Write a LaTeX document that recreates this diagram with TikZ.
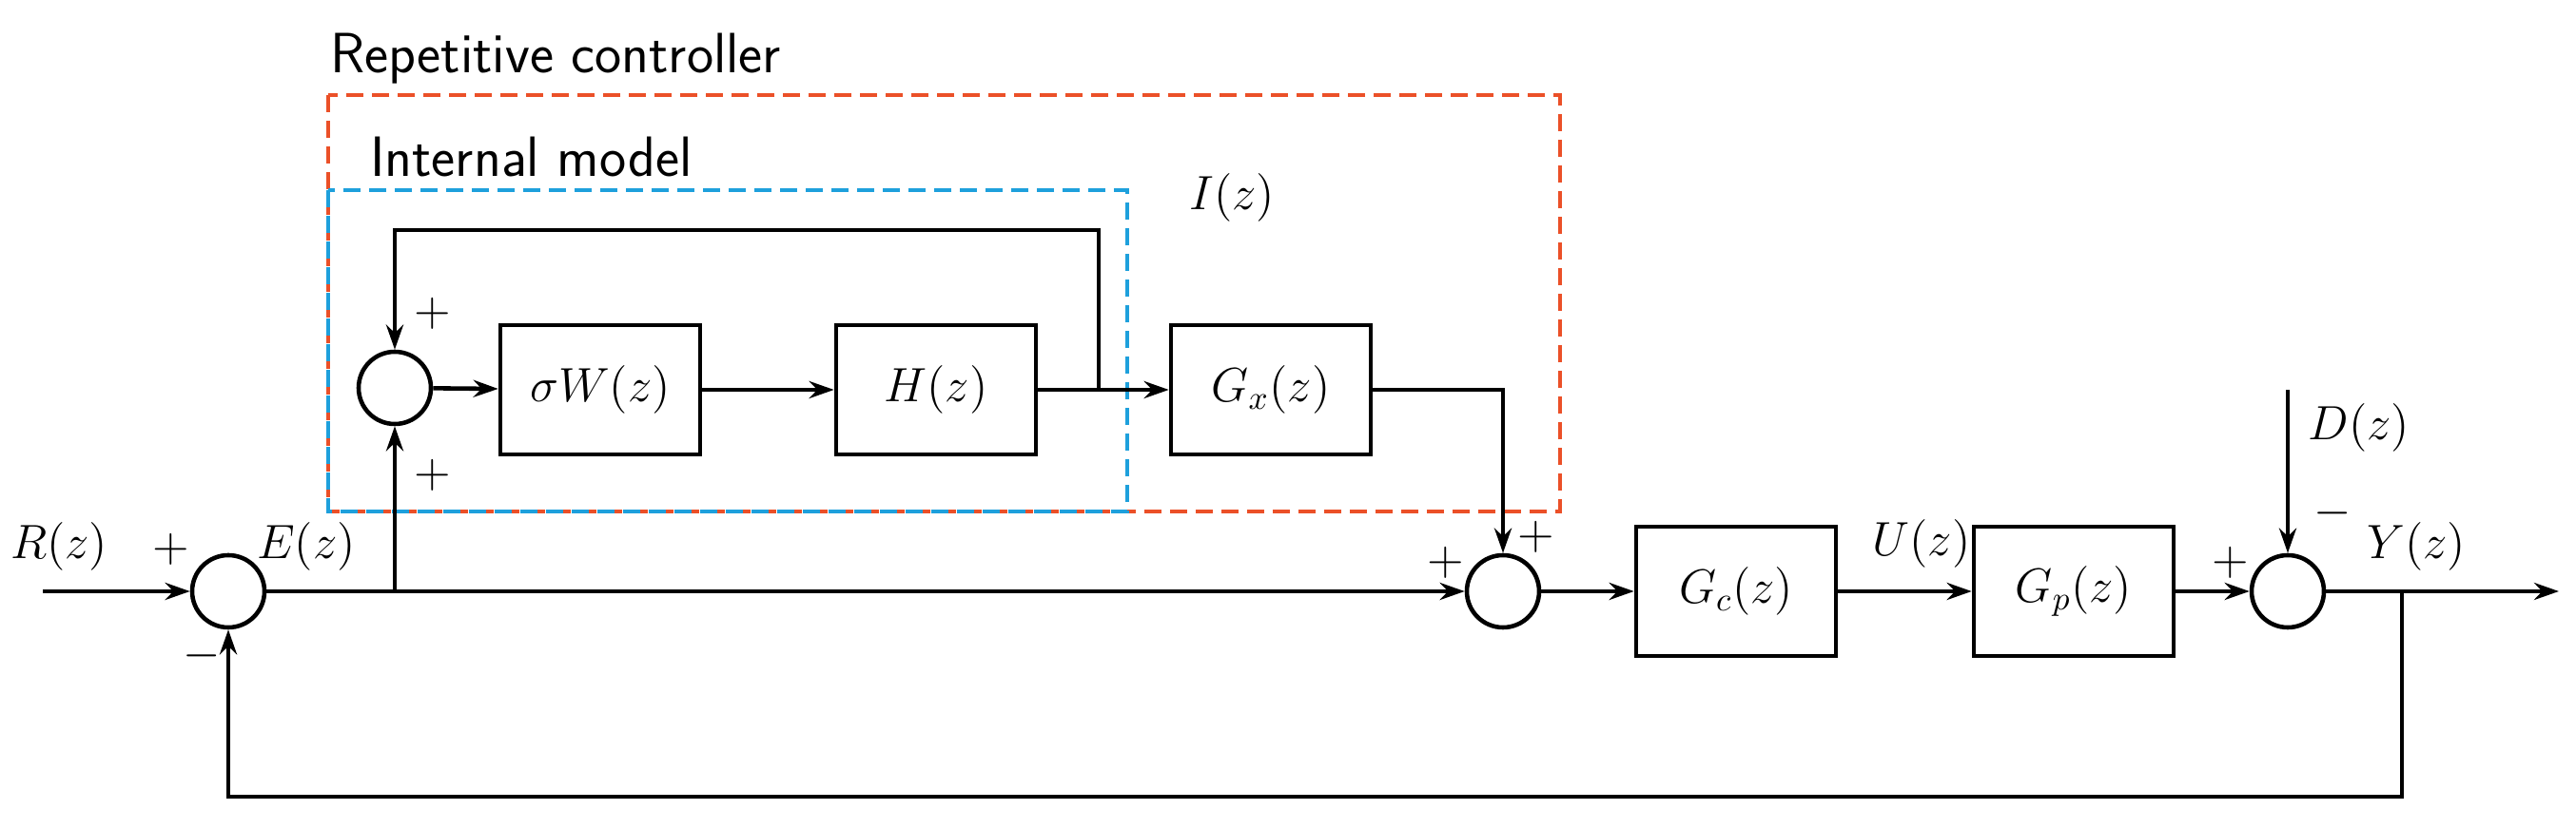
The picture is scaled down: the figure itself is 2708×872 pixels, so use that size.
\documentclass[tikz,border=0pt]{standalone}
\usetikzlibrary{arrows.meta}
\begin{document}
\begin{tikzpicture}[x=0.1mm,y=-0.1mm,
  font=\fontsize{14}{17}\selectfont,
  line width=1.3pt,
  >={Stealth[length=2.6mm,width=1.8mm]},
  blk/.style={draw,minimum width=21mm,minimum height=13.6mm,inner sep=0pt},
  sum/.style={draw,circle,minimum size=7.6mm,inner sep=0pt},
  lbl/.style={inner sep=0pt},
  ttl/.style={inner sep=0pt,anchor=west,font=\fontsize{17}{20}\selectfont\sffamily},
  dsh/.style={line width=1.3pt,dash pattern=on 1.8mm off 0.9mm}]
\useasboundingbox (0,0) rectangle (2708,872);
% dashed boxes
\draw[dsh,color={rgb,255:red,235;green,80;blue,40}] (345,100) rectangle (1640,538);
\draw[dsh,color={rgb,255:red,30;green,160;blue,220}] (345,200) rectangle (1185,538);
\node[ttl] (rct) at (345,62) {Repetitive controller};
\node[ttl] (imt) at (387,165) {Internal model};
\node[lbl] (iz) at (1295,208) {$I(z)$};
% nodes
\node[sum] (s1) at (240,622) {};
\node[sum] (s2) at (415,408) {};
\node[blk] (w) at (631,410) {$\sigma W(z)$};
\node[blk] (h) at (984,410) {$H(z)$};
\node[blk] (gx) at (1336,410) {$G_x(z)$};
\node[sum] (s3) at (1580,622) {};
\node[blk] (gc) at (1825,622) {$G_c(z)$};
\node[blk] (gp) at (2180,622) {$G_p(z)$};
\node[sum] (s4) at (2405,622) {};
\coordinate (rin) at (45,622);
\coordinate (dz) at (2405,410);
\coordinate (yout) at (2690,622);
\coordinate (b1) at (415,622);
\coordinate (b2) at (1155,410);
\coordinate (b3) at (2525,622);
% connectors
\draw[->] (rin) -- (s1);
\draw[->] (s1) -- (s3);
\draw[->] (b1) -- (s2);
\draw[->] (s2) -- (w);
\draw[->] (w) -- (h);
\draw[->] (h) -- (gx);
\draw[->] (b2) -- (1155,242) -| (s2);
\draw[->] (gx) -| (s3);
\draw[->] (s3) -- (gc);
\draw[->] (gc) -- (gp);
\draw[->] (gp) -- (s4);
\draw[->] (dz) -- (s4);
\draw[->] (s4) -- (yout);
\draw[->] (b3) -- (2525,838) -| (s1);
% labels
\node[lbl] at (62,575) {$R(z)$};
\node[lbl] at (180,578) {$+$};
\node[lbl] at (212,690) {$-$};
\node[lbl] at (322,575) {$E(z)$};
\node[lbl] at (455,330) {$+$};
\node[lbl] at (455,500) {$+$};
\node[lbl] at (1520,592) {$+$};
\node[lbl] at (1615,565) {$+$};
\node[lbl] at (2020,572) {$U(z)$};
\node[lbl] at (2345,592) {$+$};
\node[lbl] at (2452,540) {$-$};
\node[lbl] at (2480,450) {$D(z)$};
\node[lbl] at (2540,575) {$Y(z)$};
\end{tikzpicture}
\end{document}
